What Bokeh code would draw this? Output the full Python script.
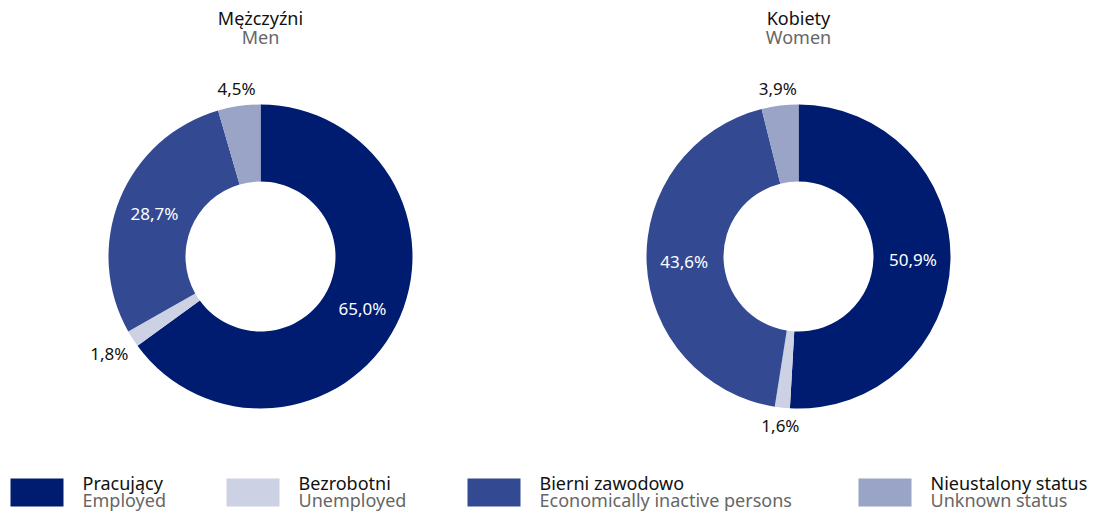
import math
from bokeh.plotting import figure
from bokeh.models import Range1d, ColumnDataSource
from bokeh.core.properties import value
from bokeh.embed import file_html
from bokeh.resources import INLINE

# ---- data ----
categories_pl = ["Pracujący", "Bezrobotni", "Bierni zawodowo", "Nieustalony status"]
categories_en = ["Employed", "Unemployed", "Economically inactive persons", "Unknown status"]
colors = ["#001C71", "#CCD1E3", "#334A93", "#99A4C6"]
men_values = [65.0, 1.8, 28.7, 4.5]
women_values = [50.9, 1.6, 43.6, 3.9]
titles_pl = ["Mężczyźni", "Kobiety"]
titles_en = ["Men", "Women"]

FONT = "Noto Sans"
FS = "17px"
FS_T = "18px"
W, H = 1098, 511

def sx(X):
    return X

def sy(Y):
    return H - Y

p = figure(width=W, height=H, x_range=Range1d(0, W), y_range=Range1d(0, H),
           output_backend="svg", toolbar_location=None, min_border=0)
p.axis.visible = False
p.grid.visible = False
p.outline_line_color = None

R_OUT, R_IN = 152, 75
centers = [(260, 256), (798, 256)]

for (cxs, cys), vals, tpl, ten in zip(centers, [men_values, women_values], titles_pl, titles_en):
    cx, cy = sx(cxs), sy(cys)
    total = sum(vals)
    starts, ends = [], []
    cum = 0.0
    for v in vals:
        starts.append(math.pi / 2 - 2 * math.pi * cum / total)
        cum += v
        ends.append(math.pi / 2 - 2 * math.pi * cum / total)
    src = ColumnDataSource(dict(start=starts, end=ends, color=colors))
    p.annular_wedge(x=cx, y=cy, inner_radius=R_IN, outer_radius=R_OUT,
                    start_angle="start", end_angle="end", direction="clock",
                    fill_color="color", line_color=None, source=src)
    # labels
    in_x, in_y, in_t, out_x, out_y, out_t = [], [], [], [], [], []
    for v, a0, a1 in zip(vals, starts, ends):
        mid = (a0 + a1) / 2
        txt = f"{v:.1f}".replace(".", ",") + "%"
        if v > 10:
            r = (R_IN + R_OUT) / 2 + 1
            in_x.append(cx + r * math.cos(mid)); in_y.append(cy + r * math.sin(mid)); in_t.append(txt)
        else:
            r = R_OUT + 16 + abs(math.cos(mid)) * 14
            out_x.append(cx + r * math.cos(mid)); out_y.append(cy + r * math.sin(mid)); out_t.append(txt)
    p.text(x=in_x, y=in_y, text=in_t, text_color="white", text_font=value(FONT),
           text_font_size=FS, text_align="center", text_baseline="middle")
    p.text(x=out_x, y=out_y, text=out_t, text_color="#111111", text_font=value(FONT),
           text_font_size=FS, text_align="center", text_baseline="middle")
    # titles
    p.text(x=[cx], y=[sy(17)], text=[tpl], text_color="#111111", text_font=value(FONT),
           text_font_size=FS_T, text_align="center", text_baseline="middle")
    p.text(x=[cx], y=[sy(36)], text=[ten], text_color="#666666", text_font=value(FONT),
           text_font_size=FS_T, text_align="center", text_baseline="middle")

# ---- legend ----
leg_sq_x = [10, 226, 467, 858]
SQ_W, SQ_H = 53, 28
for i, (lx, pl, en, c) in enumerate(zip(leg_sq_x, categories_pl, categories_en, colors)):
    p.quad(left=sx(lx), right=sx(lx + SQ_W), top=sy(478), bottom=sy(478 + SQ_H),
           fill_color=c, line_color=None)
    p.text(x=[sx(lx + SQ_W + 19)], y=[sy(482)], text=[pl], text_color="#111111",
           text_font=value(FONT), text_font_size=FS_T, text_align="left", text_baseline="middle")
    p.text(x=[sx(lx + SQ_W + 19)], y=[sy(499)], text=[en], text_color="#666666",
           text_font=value(FONT), text_font_size=FS_T, text_align="left", text_baseline="middle")

open("out.html", "w").write(file_html(p, INLINE))
